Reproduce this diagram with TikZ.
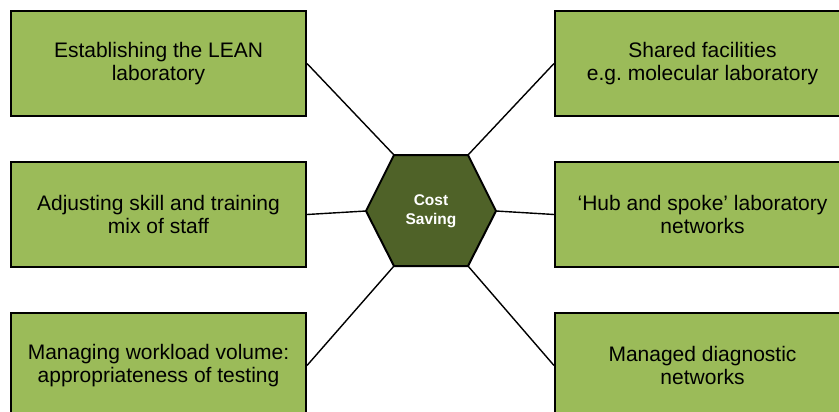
\documentclass[tikz,border=0pt]{standalone}
\usepackage{fontspec}
\setmainfont{Liberation Sans}
\definecolor{boxgreen}{HTML}{9BBB59}
\definecolor{hexgreen}{HTML}{4F6228}
\frenchspacing
\begin{document}
\begin{tikzpicture}[x=1pt,y=-1pt,
  box/.style={draw=black, line width=2pt, fill=boxgreen, minimum width=295pt, minimum height=105pt, align=center, inner sep=0pt, font=\fontsize{21}{23.5}\selectfont},
  link/.style={line width=1.4pt},
  hexlabel/.style={text=white, align=center, font=\bfseries\fontsize{15.5}{19.3}\selectfont}]
\useasboundingbox (0,0) rectangle (839,412);
\clip (0,0) rectangle (839,412);
\node[box] (b1) at (158.5,63.5) {Establishing the LEAN\\laboratory};
\node[box] (b2) at (158.5,214.5) {Adjusting skill and training\\mix of staff};
\node[box] (b3) at (158.5,365.5) {Managing workload volume:\\appropriateness of testing};
\node[box] (b4) at (702.5,63.5) {Shared facilities\\e.g. molecular laboratory};
\node[box] (b5) at (702.5,214.5) {‘Hub and spoke’ laboratory\\networks};
\node[box] (b6) at (702.5,365.5) {Managed diagnostic\\networks};
\coordinate (h1) at (394,155);
\coordinate (h2) at (468,155);
\coordinate (h3) at (496,211);
\coordinate (h4) at (468,266);
\coordinate (h5) at (394,266);
\coordinate (h6) at (366,211);
\draw[link] (b1.east) -- (h1);
\draw[link] (b4.west) -- (h2);
\draw[link] (b5.west) -- (h3);
\draw[link] (b6.west) -- (h4);
\draw[link] (b3.east) -- (h5);
\draw[link] (b2.east) -- (h6);
\draw[line width=2pt, fill=hexgreen] (h1) -- (h2) -- (h3) -- (h4) -- (h5) -- (h6) -- cycle;
\node[hexlabel] (hex) at (431,211) {Cost\\Saving};
\end{tikzpicture}
\end{document}
